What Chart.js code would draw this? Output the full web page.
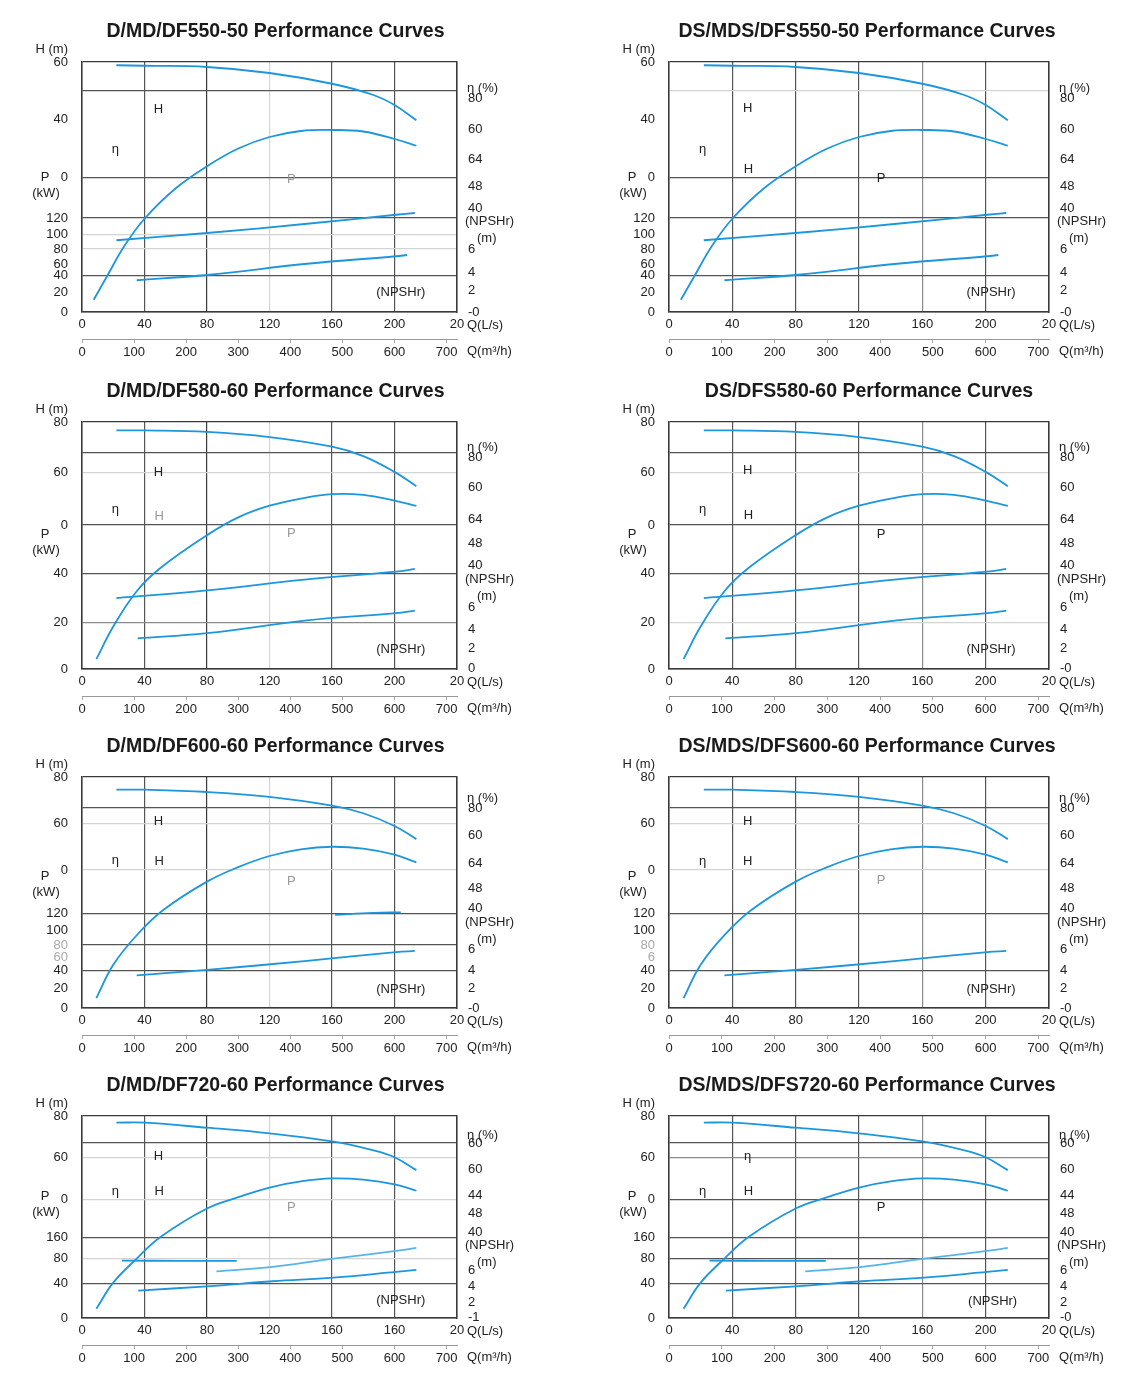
<!DOCTYPE html>
<html>
<head>
<meta charset="utf-8">
<script src="https://cdn.jsdelivr.net/npm/chart.js@4.4.1/dist/chart.umd.min.js"></script>
<style>
  body { margin: 0; background: #fff; width: 1140px; height: 1380px; position: relative; overflow: hidden; }
  .box { position: absolute; }
</style>
</head>
<body>
<div class="box" style="left:0;top:0"><canvas id="c1" width="570" height="369"></canvas></div>
<div class="box" style="left:570px;top:0"><canvas id="c2" width="570" height="369"></canvas></div>
<div class="box" style="left:0;top:375px"><canvas id="c3" width="570" height="351"></canvas></div>
<div class="box" style="left:570px;top:375px"><canvas id="c4" width="570" height="351"></canvas></div>
<div class="box" style="left:0;top:730px"><canvas id="c5" width="570" height="335"></canvas></div>
<div class="box" style="left:570px;top:730px"><canvas id="c6" width="570" height="335"></canvas></div>
<div class="box" style="left:0;top:1068px"><canvas id="c7" width="570" height="307"></canvas></div>
<div class="box" style="left:570px;top:1068px"><canvas id="c8" width="570" height="307"></canvas></div>
<script>
// the printed axes are not true scales, so the curves are read off in
// "share of plot height" (0 = bottom frame, 100 = top frame) against Q in L/s

// flow axes
const qTicks = [0, 40, 80, 120, 160, 200, 240];
const qLabels = ['0', '40', '80', '120', '160', '200', '20'];
const qLabels720 = ['0', '40', '80', '120', '160', '160', '20'];
const m3hTicks = [0, 100, 200, 300, 400, 500, 600, 700];

// 550-50
const head550 = [[22, 98.7], [40, 98.5], [80, 98], [120, 95.6], [160, 91.3], [186, 86.9], [200, 82.8], [214, 76.7]];
const eff550 = [[7.5, 4.9], [16, 14.3], [27, 26.3], [40, 37.3], [60, 49.5], [80, 58.3], [100, 65.4], [120, 70], [140, 72.4], [160, 72.8], [180, 72.2], [200, 69.2], [214, 66.5]];
const power550 = [[22, 28.7], [80, 31.6], [144, 35.3], [201, 38.9], [213, 39.6]];
const npsh550 = [[35, 12.7], [80, 14.8], [144, 19.3], [201, 22.3], [208, 22.8]];
const hTicks550 = [100, 88.5, 77, 53.8, 37.6, 31, 25.2, 19.2, 14.5, 7.8, 0];
const hLabels550 = ['60', '', '40', '0', '120', '100', '80', '60', '40', '20', '0'];
const etaTicks550 = [85.3, 72.9, 60.9, 50.3, 41.6, 24.9, 16, 8.7, 0];
const etaLabels550 = ['80', '60', '64', '48', '40', '6', '4', '2', '-0'];

// 580-60
const head580 = [[22, 96.6], [40, 96.6], [80, 96], [120, 93.9], [160, 90], [180, 86.2], [200, 79.8], [214, 74]];
const eff580 = [[9.2, 4], [20, 17.2], [35, 31.5], [50, 40.8], [80, 54.2], [100, 61.4], [120, 66.1], [140, 69], [160, 70.8], [180, 70.5], [200, 68.2], [214, 66]];
const power580 = [[22, 28.7], [80, 31.8], [144, 36.3], [201, 39.4], [213, 40.5]];
const npsh580 = [[35.6, 12.4], [80, 14.5], [144, 19.7], [201, 22.6], [213, 23.6]];
const hTicks580 = [100, 87.5, 79.4, 58.3, 38.5, 18.8, 0];
const hLabels580 = ['80', '', '60', '0', '40', '20', '0'];
const etaTicks580 = [85.5, 73.4, 60.6, 50.9, 41.9, 24.9, 16.2, 8.5, 0.4];
const etaLabels580 = ['80', '60', '64', '48', '40', '6', '4', '2', '0'];

// 600-60
const head600 = [[22, 94.5], [40, 94.5], [80, 93.5], [120, 91.4], [160, 87.6], [180, 84.3], [200, 78.8], [214, 73.1]];
const eff600 = [[9.2, 4.3], [20, 18.7], [35, 31.5], [52, 42.4], [80, 54.7], [100, 61], [120, 65.8], [140, 68.7], [160, 69.8], [180, 69], [200, 66.4], [214, 63]];
const power600 = [[162, 40.3], [186, 41.2], [204, 41.4]];
const npsh600 = [[35, 14.1], [80, 16.5], [144, 20.4], [201, 24.2], [213, 24.7]];
const hTicks600 = [100, 86.6, 79.9, 59.7, 41, 33.4, 27.3, 21.9, 16.1, 8.3, 0];
const hLabels600 = ['80', '', '60', '0', '120', '100', '80', '60', '40', '20', '0'];
const etaTicks600 = [86.6, 74.5, 62.4, 51.8, 43.2, 25.2, 16.1, 8.3, 0];
const etaLabels600 = ['80', '60', '64', '48', '40', '6', '4', '2', '-0'];

// 720-60
const head720 = [[22, 96.7], [40, 96.7], [80, 94.2], [120, 91.4], [160, 87.4], [186, 83.1], [200, 79.6], [214, 73.2]];
const eff720 = [[9.2, 4.6], [20, 17.5], [35, 29.4], [50, 40], [80, 54.2], [100, 59.8], [120, 64.6], [140, 67.6], [160, 69.1], [180, 68.5], [200, 66.2], [214, 63]];
const flat720 = [[25.6, 28.4], [62, 28.3], [99, 28.3]];
const power720 = [[86, 23.1], [122, 25.3], [161, 29.4], [201, 33.2], [214, 34.7]];
const npsh720 = [[36, 13.6], [80, 15.7], [122, 18.2], [161, 20], [201, 22.8], [214, 23.8]];
const hTicks720 = [100, 87, 79.3, 58.8, 39.8, 29.4, 17, 0];
const hLabels720 = ['80', '', '60', '0', '160', '80', '40', '0'];
const etaTicks720 = [86.4, 73.7, 60.5, 51.7, 42.3, 23.6, 15.7, 7.9, 0.5];
const etaLabels720 = ['60', '60', '44', '48', '40', '6', '4', '2', '-0'];

const BLUE = '#1c96dc';
const PALE = '#58b4e8';
const FONT = '"Liberation Sans", Arial, sans-serif';
const B = '#3a3a3a', D = '#555', M = '#8a8a8a', L = '#d4d4d4', N = 'rgba(0,0,0,0)';

const decor = {
    id: 'decor',
    afterDraw(chart, args, o) {
        const { ctx, chartArea: a, scales } = chart;
        const y = scales.y, x = scales.x;
        ctx.save();
        ctx.fillStyle = '#1a1a1a';
        ctx.textBaseline = 'middle';
        ctx.textAlign = 'center';
        ctx.font = 'bold 19.5px ' + FONT;
        ctx.fillText(o.title, (a.left + a.right) / 2 + o.shift, a.top - 30);

        ctx.font = '13px ' + FONT;
        ctx.fillStyle = '#222';
        ctx.textAlign = 'right';
        ctx.fillText('H (m)', a.left - 14, a.top - 13);
        ctx.textAlign = 'center';
        const py = y.getPixelForValue(o.pAt);
        ctx.fillText('P', a.left - 37, py);
        ctx.fillText('(kW)', a.left - 36, py + 16);

        ctx.textAlign = 'left';
        ctx.fillText('η (%)', a.right + 10, y.getPixelForValue(o.etaAt));
        const ny = y.getPixelForValue(o.npshAt);
        ctx.fillText('(NPSHr)', a.right + 8, ny);
        ctx.fillText('(m)', a.right + 20, ny + 17);
        ctx.fillText('Q(L/s)', a.right + 10, a.bottom + 13);
        ctx.fillText('Q(m³/h)', a.right + 10, a.bottom + 39);

        ctx.textAlign = 'center';
        o.notes.forEach(n => {
            ctx.fillStyle = n.faint ? '#999' : '#222';
            ctx.fillText(n.text, x.getPixelForValue(n.q), y.getPixelForValue(n.v));
        });
        ctx.restore();
    }
};

function curve(pts, color) {
    return {
        data: pts.map(p => ({ x: p[0], y: p[1] })),
        borderColor: color || BLUE,
        borderWidth: 1.8,
        pointRadius: 0,
        tension: 0.4,
        fill: false
    };
}

function build(id, c) {
    const right = c.col === 1;
    new Chart(document.getElementById(id), {
        type: 'line',
        data: { datasets: c.curves },
        options: {
            responsive: false,
            animation: false,
            layout: { padding: { top: c.top, left: 0, right: 0, bottom: 0 } },
            plugins: {
                legend: { display: false },
                tooltip: { enabled: false },
                decor: c.decor
            },
            scales: {
                x: {
                    type: 'linear', position: 'bottom', min: 0, max: 240, weight: 0,
                    afterBuildTicks: s => { s.ticks = qTicks.map(v => ({ value: v })); },
                    afterFit: s => { s.height = 27; },
                    ticks: { callback: (v, i) => c.qLabels[i], padding: 5, maxRotation: 0, autoSkip: false,
                        color: '#222', font: { family: FONT, size: 13 } },
                    grid: { drawTicks: false, color: g => c.xGrid[g.index], lineWidth: 1.2 },
                    border: { color: B, width: 1.5 }
                },
                x2: {
                    type: 'linear', position: 'bottom', min: 0, max: 720, weight: 1,
                    afterBuildTicks: s => { s.ticks = m3hTicks.map(v => ({ value: v })); },
                    afterFit: s => { s.height = 30; },
                    ticks: { padding: 2, maxRotation: 0, autoSkip: false,
                        color: '#222', font: { family: FONT, size: 13 } },
                    grid: { drawOnChartArea: false, tickLength: 4, color: '#aaa' },
                    border: { color: '#999', width: 1 }
                },
                y: {
                    type: 'linear', position: 'left', min: 0, max: 100,
                    afterBuildTicks: s => { s.ticks = c.hTicks.map(v => ({ value: v })); },
                    afterFit: s => { s.width = right ? 99 : 82; },
                    ticks: { callback: (v, i) => c.hLabels[i], padding: 14, autoSkip: false,
                        color: t => (c.faint || []).includes(t.index) ? '#aaa' : '#222',
                        font: { family: FONT, size: 13 } },
                    grid: { drawTicks: false, color: g => c.hGrid[g.index], lineWidth: 1.2 },
                    border: { color: B, width: 1.5 }
                },
                y2: {
                    type: 'linear', position: 'right', min: 0, max: 100,
                    afterBuildTicks: s => { s.ticks = c.etaTicks.map(v => ({ value: v })); },
                    afterFit: s => { s.width = right ? 91 : 113; },
                    ticks: { callback: (v, i) => c.etaLabels[i], padding: 11, autoSkip: false,
                        color: '#222', font: { family: FONT, size: 13 } },
                    grid: { drawOnChartArea: false, drawTicks: false },
                    border: { color: B, width: 1.5 }
                }
            }
        },
        plugins: [decor]
    });
}

const xGridLeft = [B, D, B, L, D, D, B];
const xGridRight = [B, D, D, D, M, D, B];

build('c1', {
    col: 0, top: 62, qLabels: qLabels,
    curves: [curve(head550), curve(eff550), curve(power550), curve(npsh550)],
    hTicks: hTicks550, hLabels: hLabels550, hGrid: [B, D, N, D, D, L, L, N, D, N, B],
    etaTicks: etaTicks550, etaLabels: etaLabels550, xGrid: xGridLeft,
    decor: { title: 'D/MD/DF550-50 Performance Curves', shift: 6, pAt: 53.8, etaAt: 89.6, npshAt: 36.3,
        notes: [{ text: 'H', q: 49, v: 80.9 }, { text: 'η', q: 21.3, v: 65.2 },
            { text: 'P', q: 134, v: 53.2, faint: true }, { text: '(NPSHr)', q: 204, v: 8 }] }
});
build('c2', {
    col: 1, top: 62, qLabels: qLabels,
    curves: [curve(head550), curve(eff550), curve(power550), curve(npsh550)],
    hTicks: hTicks550, hLabels: hLabels550, hGrid: [B, L, N, D, D, N, N, N, D, N, B],
    etaTicks: etaTicks550, etaLabels: etaLabels550, xGrid: xGridRight,
    decor: { title: 'DS/MDS/DFS550-50 Performance Curves', shift: 8, pAt: 53.8, etaAt: 89.6, npshAt: 36.3,
        notes: [{ text: 'H', q: 49.7, v: 81.3 }, { text: 'η', q: 21.3, v: 65.2 }, { text: 'H', q: 50.1, v: 56.9 },
            { text: 'P', q: 134, v: 53.6 }, { text: '(NPSHr)', q: 203.4, v: 8 }] }
});
build('c3', {
    col: 0, top: 47, qLabels: qLabels,
    curves: [curve(head580), curve(eff580), curve(power580), curve(npsh580)],
    hTicks: hTicks580, hLabels: hLabels580, hGrid: [B, D, L, D, D, M, B],
    etaTicks: etaTicks580, etaLabels: etaLabels580, xGrid: xGridLeft,
    decor: { title: 'D/MD/DF580-60 Performance Curves', shift: 6, pAt: 54.6, etaAt: 89.9, npshAt: 36.3,
        notes: [{ text: 'H', q: 49, v: 79.4 }, { text: 'η', q: 21.3, v: 64.6 }, { text: 'H', q: 49.4, v: 61.6, faint: true },
            { text: 'P', q: 134, v: 54.9, faint: true }, { text: '(NPSHr)', q: 204, v: 8.1 }] }
});
build('c4', {
    col: 1, top: 47, qLabels: qLabels,
    curves: [curve(head580), curve(eff580), curve(power580), curve(npsh580)],
    hTicks: hTicks580, hLabels: hLabels580, hGrid: [B, D, L, D, D, L, B],
    etaTicks: etaTicks580, etaLabels: ['80', '60', '64', '48', '40', '6', '4', '2', '-0'], xGrid: xGridRight,
    decor: { title: 'DS/DFS580-60 Performance Curves', shift: 10, pAt: 54.6, etaAt: 89.9, npshAt: 36.3,
        notes: [{ text: 'H', q: 49.7, v: 80.5 }, { text: 'η', q: 21.3, v: 64.6 }, { text: 'H', q: 50.1, v: 62.3 },
            { text: 'P', q: 134, v: 54.6 }, { text: '(NPSHr)', q: 203.4, v: 8.1 }] }
});
build('c5', {
    col: 0, top: 47, qLabels: qLabels, faint: [6, 7],
    curves: [curve(head600), curve(eff600), curve(power600), curve(npsh600)],
    hTicks: hTicks600, hLabels: hLabels600, hGrid: [B, D, L, L, D, N, D, N, D, N, B],
    etaTicks: etaTicks600, etaLabels: etaLabels600, xGrid: xGridLeft,
    decor: { title: 'D/MD/DF600-60 Performance Curves', shift: 6, pAt: 56.8, etaAt: 90.6, npshAt: 37.1,
        notes: [{ text: 'H', q: 49, v: 80.6 }, { text: 'η', q: 21.3, v: 64 }, { text: 'H', q: 49.4, v: 63.3 },
            { text: 'P', q: 134, v: 54.7, faint: true }, { text: '(NPSHr)', q: 204, v: 8.2 }] }
});
build('c6', {
    col: 1, top: 47, qLabels: qLabels, faint: [6, 7],
    curves: [curve(head600), curve(eff600), curve(npsh600)],
    hTicks: hTicks600, hLabels: ['80', '', '60', '0', '120', '100', '80', '6', '40', '20', '0'],
    hGrid: [B, D, L, L, D, N, N, N, D, N, B],
    etaTicks: etaTicks600, etaLabels: etaLabels600, xGrid: xGridRight,
    decor: { title: 'DS/MDS/DFS600-60 Performance Curves', shift: 8, pAt: 56.8, etaAt: 90.6, npshAt: 37.1,
        notes: [{ text: 'H', q: 49.7, v: 80.6 }, { text: 'η', q: 21.3, v: 63.3 }, { text: 'H', q: 49.7, v: 63.3 },
            { text: 'P', q: 134, v: 55.4, faint: true }, { text: '(NPSHr)', q: 203.4, v: 8.2 }] }
});
build('c7', {
    col: 0, top: 48, qLabels: qLabels720,
    curves: [curve(head720), curve(eff720), curve(flat720), curve(power720, PALE), curve(npsh720)],
    hTicks: hTicks720, hLabels: hLabels720, hGrid: [B, D, L, L, D, L, D, B],
    etaTicks: etaTicks720, etaLabels: ['60', '60', '44', '48', '40', '6', '4', '2', '-1'], xGrid: xGridLeft,
    decor: { title: 'D/MD/DF720-60 Performance Curves', shift: 6, pAt: 60, etaAt: 90.6, npshAt: 36,
        notes: [{ text: 'H', q: 49, v: 79.8 }, { text: 'η', q: 21.3, v: 62.8 }, { text: 'H', q: 49.4, v: 62.5 },
            { text: 'P', q: 134, v: 54.5, faint: true }, { text: '(NPSHr)', q: 204, v: 8.6 }] }
});
build('c8', {
    col: 1, top: 48, qLabels: qLabels,
    curves: [curve(head720), curve(eff720), curve(flat720), curve(power720, PALE), curve(npsh720)],
    hTicks: hTicks720, hLabels: hLabels720, hGrid: [B, D, M, D, D, D, D, B],
    etaTicks: etaTicks720, etaLabels: etaLabels720, xGrid: xGridRight,
    decor: { title: 'DS/MDS/DFS720-60 Performance Curves', shift: 8, pAt: 60, etaAt: 90.6, npshAt: 36,
        notes: [{ text: 'η', q: 49.7, v: 80.2 }, { text: 'η', q: 21.3, v: 62.8 }, { text: 'H', q: 50.1, v: 62.8 },
            { text: 'P', q: 134, v: 54.5 }, { text: '(NPSHr)', q: 204.4, v: 8.3 }] }
});
</script>
</body>
</html>
